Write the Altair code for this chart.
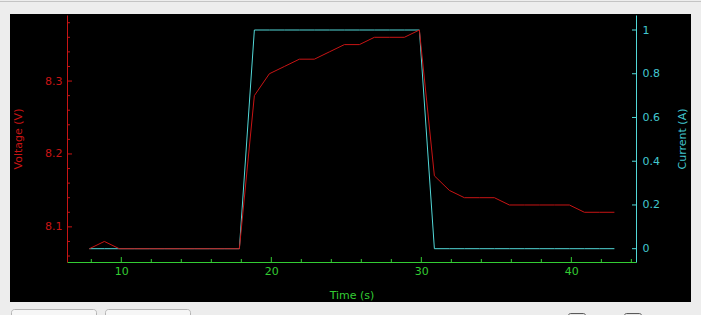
import altair as alt
import pandas as pd

# ---- data ----
time_s = [7.87, 8.87, 9.87, 10.87, 11.87, 12.87, 13.87, 14.87, 15.87, 16.87,
          17.87, 18.87, 19.87, 20.87, 21.87, 22.87, 23.87, 24.87, 25.87, 26.87,
          27.87, 28.87, 29.87, 30.87, 31.87, 32.87, 33.87, 34.87, 35.87, 36.87,
          37.87, 38.87, 39.87, 40.87, 41.87, 42.87]
voltage_v = [8.07, 8.08, 8.07, 8.07, 8.07, 8.07, 8.07, 8.07, 8.07, 8.07,
             8.07, 8.28, 8.31, 8.32, 8.33, 8.33, 8.34, 8.35, 8.35, 8.36,
             8.36, 8.36, 8.37, 8.17, 8.15, 8.14, 8.14, 8.14, 8.13, 8.13,
             8.13, 8.13, 8.13, 8.12, 8.12, 8.12]
current_a = [0, 0, 0, 0, 0, 0, 0, 0, 0, 0,
             0, 1, 1, 1, 1, 1, 1, 1, 1, 1,
             1, 1, 1, 0, 0, 0, 0, 0, 0, 0,
             0, 0, 0, 0, 0, 0]

x_major = [10, 20, 30, 40]
x_minor = [8, 12, 14, 16, 18, 22, 24, 26, 28, 32, 34, 36, 38, 42, 44]
v_major = [8.1, 8.2, 8.3]
v_minor = [8.06, 8.08, 8.12, 8.14, 8.16, 8.18, 8.22, 8.24, 8.26, 8.28,
           8.32, 8.34, 8.36, 8.38]
i_major = [0, 0.2, 0.4, 0.6, 0.8, 1]

# ---- styling ----
RED = "#c81414"
CYAN = "#52d8d8"
CYAN_TXT = "#42c8d0"
GREEN = "#33cc33"
FONT = "DejaVu Sans"
W, H = 569, 247

df = pd.DataFrame({"t": time_s, "V": voltage_v, "I": current_a})

x_scale = alt.Scale(domain=[6.38, 44.31], nice=False, zero=False)
v_scale = alt.Scale(domain=[8.0518, 8.3906], nice=False, zero=False)
i_scale = alt.Scale(domain=[-0.0608, 1.0686], nice=False, zero=False)

common = dict(grid=False, ticks=False, zindex=2, labelFont=FONT, titleFont=FONT,
              labelFontSize=11, titleFontSize=11, titleFontWeight="normal",
              domainWidth=1)

x_axis = alt.Axis(title="Time (s)", orient="bottom", values=x_major, format="d",
                  domainColor=GREEN, labelColor=GREEN, titleColor=GREEN,
                  labelPadding=3, titlePadding=13, **common)
v_axis = alt.Axis(title="Voltage (V)", orient="left", values=v_major,
                  format=".1f", domainColor=RED, labelColor=RED,
                  titleColor=RED, labelPadding=5, titlePadding=21, **common)
i_axis = alt.Axis(title="Current (A)", orient="right", values=i_major,
                  format="~g", domainColor=CYAN, labelColor=CYAN_TXT,
                  titleColor=CYAN_TXT, labelPadding=6, titlePadding=28,
                  titleAngle=270, **common)

one = alt.Data(values=[{"a": 1}])

panel = alt.Chart(one).mark_rect(color="black").encode(
    x=alt.value(-57), x2=alt.value(624), y=alt.value(-1), y2=alt.value(287))
top_line = alt.Chart(one).mark_rule(color="#c4c4c4", strokeWidth=1).encode(
    x=alt.value(-67), x2=alt.value(634), y=alt.value(-13.5))
btn1 = alt.Chart(one).mark_rect(fill="#f6f6f6", stroke="#b5b5b5",
                                cornerRadius=3).encode(
    x=alt.value(-55.5), x2=alt.value(29.5), y=alt.value(294.5), y2=alt.value(312))
btn2 = alt.Chart(one).mark_rect(fill="#f6f6f6", stroke="#b5b5b5",
                                cornerRadius=3).encode(
    x=alt.value(38.5), x2=alt.value(123.5), y=alt.value(294.5), y2=alt.value(312))
chk1 = alt.Chart(one).mark_rect(fill="#e4e4e4", stroke="#5a5a5a",
                                cornerRadius=2).encode(
    x=alt.value(501.5), x2=alt.value(518.5), y=alt.value(298.5), y2=alt.value(312))
chk2 = alt.Chart(one).mark_rect(fill="#e4e4e4", stroke="#5a5a5a",
                                cornerRadius=2).encode(
    x=alt.value(557.5), x2=alt.value(574.5), y=alt.value(298.5), y2=alt.value(312))

x_enc = alt.X("t:Q", scale=x_scale, axis=x_axis)

xt_major = alt.Chart(pd.DataFrame({"t": x_major})).mark_rule(
    color=GREEN, strokeWidth=1).encode(x=x_enc, y=alt.value(H), y2=alt.value(H - 5))
xt_minor = alt.Chart(pd.DataFrame({"t": x_minor})).mark_rule(
    color=GREEN, strokeWidth=1).encode(x=x_enc, y=alt.value(H), y2=alt.value(H - 3))

v_enc = alt.Y("V:Q", scale=v_scale, axis=v_axis)
vt_major = alt.Chart(pd.DataFrame({"V": v_major})).mark_rule(color=RED).encode(
    y=v_enc, x=alt.value(0), x2=alt.value(5))
vt_minor = alt.Chart(pd.DataFrame({"V": v_minor})).mark_rule(color=RED).encode(
    y=v_enc, x=alt.value(0), x2=alt.value(3))
volt_line = alt.Chart(df).mark_line(color=RED, strokeWidth=1).encode(
    x=x_enc, y=v_enc)

i_enc = alt.Y("I:Q", scale=i_scale, axis=i_axis)
it_major = alt.Chart(pd.DataFrame({"I": i_major})).mark_rule(color=CYAN).encode(
    y=i_enc, x=alt.value(W), x2=alt.value(W - 4))
curr_line = alt.Chart(df).mark_line(color=CYAN, strokeWidth=1).encode(
    x=x_enc, y=i_enc)

left_layer = alt.layer(vt_minor, vt_major, volt_line)
right_layer = alt.layer(it_major, curr_line)

chart = alt.layer(
    panel, top_line, btn1, btn2, chk1, chk2, xt_minor, xt_major,
    right_layer, left_layer
).resolve_scale(y="independent").properties(
    width=W, height=H,
    padding={"left": 67, "top": 15, "right": 65, "bottom": 53},
    autosize=alt.AutoSizeParams(type="none"),
    background="#ededed",
).configure_view(strokeWidth=0)

chart.save("out.html", embed_options={"renderer": "svg", "actions": False})
